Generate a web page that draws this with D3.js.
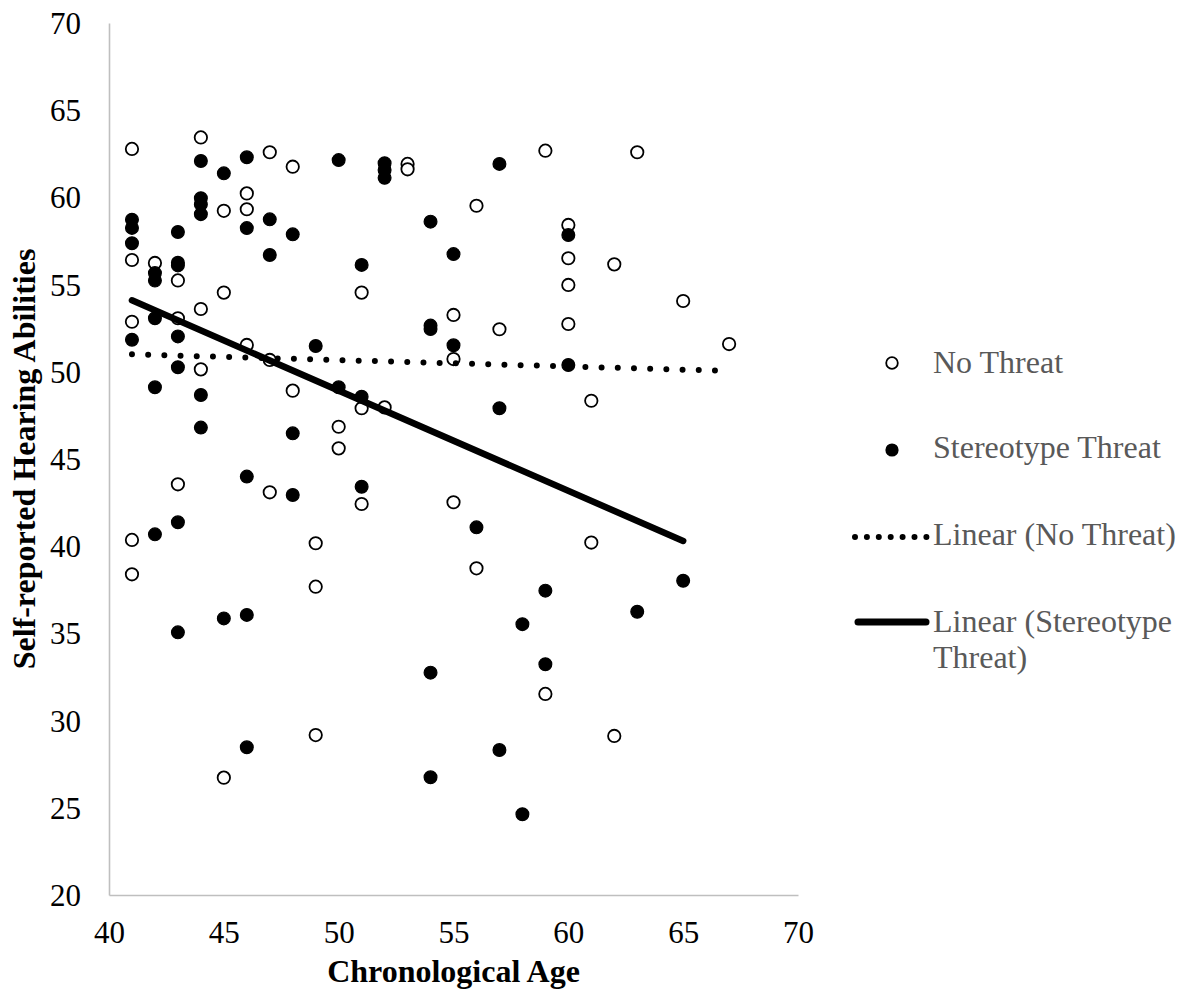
<!DOCTYPE html>
<html>
<head>
<meta charset="utf-8">
<script src="https://cdnjs.cloudflare.com/ajax/libs/d3/7.8.5/d3.min.js"></script>
<style>
    body { margin: 0; background: #fff; }
    svg { display: block; }
    text { font-family: "Liberation Serif", "Times New Roman", serif; }
</style>
</head>
<body>
<div id="svg-area"></div>
<script>
// chart size
var svgWidth = 1182;
var svgHeight = 994;

// data
var xTicks = [40, 45, 50, 55, 60, 65, 70];
var yTicks = [20, 25, 30, 35, 40, 45, 50, 55, 60, 65, 70];

// No Threat group (open circles)
var noThreatAge = [
    41, 41, 41, 41, 41,
    42,
    43, 43, 43,
    44, 44, 44,
    45, 45, 45,
    46, 46, 46,
    47, 47, 47,
    48, 48,
    49, 49, 49,
    50, 50,
    51, 51, 51,
    52,
    53, 53,
    55, 55, 55,
    56, 56,
    57,
    59, 59,
    60, 60, 60, 60,
    61, 61,
    62, 62,
    63,
    65,
    67
];
var noThreatScore = [
    62.78, 56.41, 52.87, 40.36, 38.39,
    56.24,
    55.24, 53.07, 43.55,
    63.44, 53.60, 50.14,
    59.23, 54.54, 26.73,
    60.23, 59.32, 51.54,
    62.59, 50.68, 43.09,
    61.76, 48.92,
    40.17, 37.68, 29.17,
    46.85, 45.61,
    54.54, 47.91, 42.42,
    47.96,
    61.92, 61.61,
    53.26, 50.73, 42.52,
    59.52, 38.73,
    52.44,
    62.68, 31.53,
    58.42, 56.51, 54.98, 52.74,
    48.34, 40.21,
    56.16, 29.12,
    62.59,
    54.06,
    51.59
];

// Stereotype Threat group (filled circles)
var threatAge = [
    41, 41, 41, 41,
    42, 42, 42, 42, 42,
    43, 43, 43, 43, 43, 43, 43,
    44, 44, 44, 44, 44, 44,
    45, 45,
    46, 46, 46, 46, 46,
    47, 47,
    48, 48, 48,
    49,
    50, 50,
    51, 51, 51,
    52, 52, 52,
    54, 54, 54, 54, 54,
    55, 55,
    56,
    57, 57, 57,
    58, 58,
    59, 59,
    60, 60,
    63,
    65
];
var threatScore = [
    58.72, 58.25, 57.37, 51.84,
    55.66, 55.23, 53.07, 49.11, 40.68,
    58.02, 56.25, 56.10, 52.03, 50.26, 41.37, 35.06,
    62.09, 59.95, 59.60, 59.04, 48.67, 46.80,
    61.38, 35.86,
    62.30, 58.24, 43.99, 36.06, 28.47,
    58.74, 56.70,
    57.88, 46.47, 42.94,
    51.48,
    62.14, 49.11,
    56.13, 48.57, 43.41,
    61.96, 61.57, 61.12,
    58.61, 52.65, 52.45, 32.75, 26.75,
    56.75, 51.52,
    41.08,
    61.92, 47.91, 28.31,
    35.53, 24.63,
    37.45, 33.23,
    57.84, 50.39,
    36.24,
    38.02
];

// linear trend lines (end points as shown)
var trendNoThreatAge = [41, 67];
var trendNoThreatScore = [51.0, 50.05];
var trendThreatAge = [41, 65];
var trendThreatScore = [54.1, 40.3];

var legendLabels = ["No Threat", "Stereotype Threat", "Linear (No Threat)", "Linear (Stereotype", "Threat)"];

var svg = d3.select("#svg-area")
    .append("svg")
    .attr("width", svgWidth)
    .attr("height", svgHeight)
;

var xScale = d3.scaleLinear().domain([40, 70]).range([109, 798]);
var yScale = d3.scaleLinear().domain([20, 70]).range([895, 23]);

// axes
var xAxis = svg.append("g")
    .attr("transform", "translate(0, 895)")
    .call(d3.axisBottom(xScale)
        .tickValues(xTicks)
        .tickSize(0)
        .tickSizeOuter(0)
        .tickPadding(26)
        .tickFormat(d3.format("d")))
;

var yAxis = svg.append("g")
    .attr("transform", "translate(109, 0)")
    .call(d3.axisLeft(yScale)
        .tickValues(yTicks)
        .tickSize(0)
        .tickSizeOuter(0)
        .tickPadding(28)
        .tickFormat(d3.format("d")))
;

[xAxis, yAxis].forEach(function(ax) {
    ax.select(".domain")
        .attr("stroke", "#bfbfbf")
        .attr("stroke-width", 1.6);
    ax.selectAll("text")
        .attr("font-family", "Liberation Serif, Times New Roman, serif")
        .attr("font-size", 31)
        .attr("fill", "#000");
});
yAxis.selectAll("text").attr("dy", "0.34em");

// axis titles
svg.append("text")
    .attr("x", 453.5)
    .attr("y", 982)
    .attr("text-anchor", "middle")
    .attr("font-size", 32)
    .attr("font-weight", "bold")
    .text("Chronological Age")
;

svg.append("text")
    .attr("transform", "translate(35, 459) rotate(-90)")
    .attr("text-anchor", "middle")
    .attr("font-size", 32)
    .attr("font-weight", "bold")
    .text("Self-reported Hearing Abilities")
;

// points
var noThreat = noThreatAge.map(function(a, i) { return [a, noThreatScore[i]]; });
var threat = threatAge.map(function(a, i) { return [a, threatScore[i]]; });

svg.append("g").selectAll("circle")
    .data(noThreat)
    .enter()
    .append("circle")
    .attr("cx", d => xScale(d[0]))
    .attr("cy", d => yScale(d[1]))
    .attr("r", 6.2)
    .attr("fill", "#fff")
    .attr("stroke", "#000")
    .attr("stroke-width", 1.8)
;

svg.append("g").selectAll("circle")
    .data(threat)
    .enter()
    .append("circle")
    .attr("cx", d => xScale(d[0]))
    .attr("cy", d => yScale(d[1]))
    .attr("r", 6.4)
    .attr("fill", "#000")
    .attr("stroke", "#000")
    .attr("stroke-width", 1.2)
;

// trend lines
var line = d3.line().x(d => xScale(d[0])).y(d => yScale(d[1]));

svg.append("path")
    .datum(trendNoThreatAge.map(function(a, i) { return [a, trendNoThreatScore[i]]; }))
    .attr("d", line)
    .attr("fill", "none")
    .attr("stroke", "#000")
    .attr("stroke-width", 6)
    .attr("stroke-linecap", "round")
    .attr("stroke-dasharray", "0 16.2")
;

svg.append("path")
    .datum(trendThreatAge.map(function(a, i) { return [a, trendThreatScore[i]]; }))
    .attr("d", line)
    .attr("fill", "none")
    .attr("stroke", "#000")
    .attr("stroke-width", 6.5)
    .attr("stroke-linecap", "round")
;

// legend
var legend = svg.append("g");

legend.append("circle")
    .attr("cx", 892).attr("cy", 363).attr("r", 5.8)
    .attr("fill", "#fff").attr("stroke", "#000").attr("stroke-width", 1.8);

legend.append("circle")
    .attr("cx", 892).attr("cy", 450).attr("r", 6.6)
    .attr("fill", "#000");

legend.append("line")
    .attr("x1", 855).attr("x2", 927).attr("y1", 537).attr("y2", 537)
    .attr("stroke", "#000").attr("stroke-width", 6)
    .attr("stroke-linecap", "round").attr("stroke-dasharray", "0 11.9");

legend.append("line")
    .attr("x1", 858).attr("x2", 926).attr("y1", 622).attr("y2", 622)
    .attr("stroke", "#000").attr("stroke-width", 7)
    .attr("stroke-linecap", "round");

var legendY = [373, 458, 545, 632, 668];
legend.selectAll("text.leg")
    .data(legendLabels)
    .enter()
    .append("text")
    .attr("class", "leg")
    .attr("x", 933)
    .attr("y", (d, i) => legendY[i])
    .attr("font-size", 32)
    .attr("fill", "#595959")
    .text(d => d)
;
</script>
</body>
</html>
